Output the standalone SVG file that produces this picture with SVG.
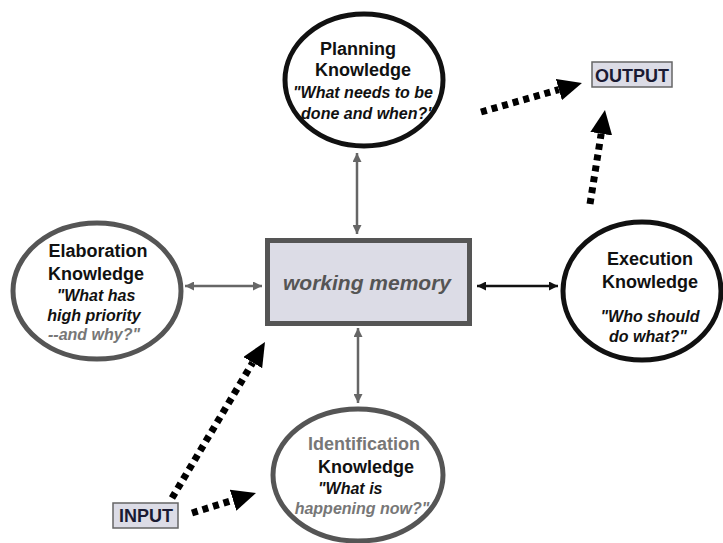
<svg xmlns="http://www.w3.org/2000/svg" width="723" height="543" viewBox="0 0 723 543">
  <defs>
    <style>
      .t { font-family: "Liberation Sans", Arial, sans-serif; font-weight: bold; text-anchor: middle; fill: #111; }
      .h { font-size: 18px; }
      .q { font-size: 16px; font-style: italic; }
      .grey { fill: #777; }
      .ring-dark { fill: #fff; stroke: #111; stroke-width: 5; }
      .ring-grey { fill: #fff; stroke: #555; stroke-width: 5; }
      .link { stroke: #666; stroke-width: 2.5; fill: none; }
      .link-dark { stroke: #111; stroke-width: 2.5; fill: none; }
      .flow { stroke: #000; stroke-width: 7; stroke-dasharray: 6 5; fill: none; }
      .tag { fill: #dcdce6; stroke: #666; stroke-width: 1.5; }
      .label { fill: #1a1a33; }
    </style>
    <marker id="tipGrey" viewBox="0 0 10 10" refX="10" refY="5" markerWidth="9" markerHeight="9" markerUnits="userSpaceOnUse" orient="auto-start-reverse">
      <path d="M0,0 L10,5 L0,10 z" fill="#666"/>
    </marker>
    <marker id="tipDark" viewBox="0 0 10 10" refX="10" refY="5" markerWidth="9" markerHeight="9" markerUnits="userSpaceOnUse" orient="auto-start-reverse">
      <path d="M0,0 L10,5 L0,10 z" fill="#111"/>
    </marker>
    <!-- head sits beyond the line end: line stops at the head's base -->
    <marker id="tipFlow" viewBox="0 0 24 22" refX="0" refY="11" markerWidth="24" markerHeight="22" markerUnits="userSpaceOnUse" orient="auto">
      <path d="M0,0 L24,11 L0,22 z" fill="#000"/>
    </marker>
  </defs>

  <rect width="723" height="543" fill="#fff"/>

  <!-- connectors -->
  <g id="connectors">
    <line class="link" x1="357" y1="153" x2="357" y2="234" marker-start="url(#tipGrey)" marker-end="url(#tipGrey)"/>
    <line class="link" x1="358" y1="328" x2="358" y2="403" marker-start="url(#tipGrey)" marker-end="url(#tipGrey)"/>
    <line class="link" x1="185" y1="286" x2="262" y2="286" marker-start="url(#tipGrey)" marker-end="url(#tipGrey)"/>
    <line class="link-dark" x1="477" y1="286" x2="558" y2="286" marker-start="url(#tipDark)" marker-end="url(#tipDark)"/>
    <line class="flow" x1="481" y1="112" x2="558.9" y2="89.6" marker-end="url(#tipFlow)"/>
    <line class="flow" x1="590" y1="204" x2="601.2" y2="133.7" marker-end="url(#tipFlow)"/>
    <line class="flow" x1="172" y1="498" x2="252.7" y2="362.6" marker-end="url(#tipFlow)"/>
    <line class="flow" x1="192" y1="513" x2="233.1" y2="500.2" marker-end="url(#tipFlow)"/>
  </g>

  <!-- central store -->
  <g id="working-memory">
    <rect x="267.5" y="240.5" width="202" height="83" fill="#dcdce6" stroke="#555" stroke-width="5"/>
    <text class="t" x="367" y="290" font-size="21" font-style="italic" style="fill:#555">working memory</text>
  </g>

  <g id="planning">
    <ellipse class="ring-dark" cx="364" cy="80" rx="79" ry="66"/>
    <text class="t h" x="358" y="55">Planning</text>
    <text class="t h" x="363" y="76">Knowledge</text>
    <text class="t q" x="363" y="98">"What needs to be</text>
    <text class="t q" x="368" y="119">done and when?"</text>
  </g>

  <g id="elaboration">
    <ellipse class="ring-grey" cx="97" cy="291" rx="84" ry="68"/>
    <text class="t h" x="98" y="257">Elaboration</text>
    <text class="t h" x="96" y="280">Knowledge</text>
    <text class="t q" x="96" y="301">"What has</text>
    <text class="t q" x="94" y="321">high priority</text>
    <text class="t q grey" x="94" y="340">--and why?"</text>
  </g>

  <g id="execution">
    <ellipse class="ring-dark" cx="642" cy="291" rx="79" ry="69"/>
    <text class="t h" x="650" y="265">Execution</text>
    <text class="t h" x="650" y="288">Knowledge</text>
    <text class="t q" x="650" y="322">"Who should</text>
    <text class="t q" x="648" y="342">do what?"</text>
  </g>

  <g id="identification">
    <text class="t q grey" x="362" y="514">happening now?"</text>
    <ellipse cx="358" cy="475" rx="85" ry="66" fill="none" stroke="#555" stroke-width="5"/>
    <text class="t h grey" x="364" y="450">Identification</text>
    <text class="t h" x="366" y="473">Knowledge</text>
    <text class="t q" x="318" y="494" style="text-anchor:start">"What is</text>
  </g>

  <g id="output">
    <rect class="tag" x="592" y="62" width="80" height="25"/>
    <text class="t h label" x="632" y="82">OUTPUT</text>
  </g>

  <g id="input">
    <rect class="tag" x="113" y="503" width="65" height="25"/>
    <text class="t h label" x="146" y="522">INPUT</text>
  </g>
</svg>
